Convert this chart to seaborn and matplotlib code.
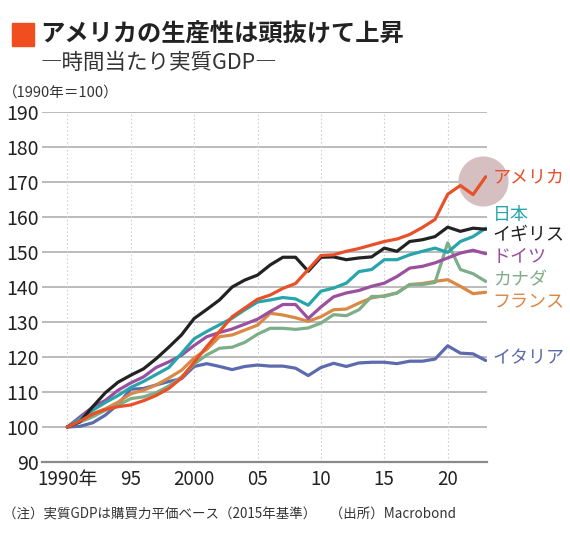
import numpy as np
import pandas as pd
import matplotlib
matplotlib.use("Agg")
import matplotlib.pyplot as plt
from matplotlib.patches import Rectangle
import seaborn as sns

years = list(range(1990, 2024))

usa = [100, 101.7, 103.7, 105, 105.8, 106.3, 107.5, 109, 111, 114,
       118.5, 123, 127.3, 131.5, 134, 136.5, 137.7, 139.6, 141, 145,
       149, 149.2, 150.2, 151, 152, 153, 153.7, 155, 157, 159.3,
       166.5, 169, 166.4, 171.5]
japan = [100, 102.4, 104.8, 107, 109, 111.3, 113, 115, 117, 121,
         125.2, 127.3, 129.2, 131.1, 133.5, 135.7, 136.3, 137, 136.6, 134.8,
         138.8, 139.7, 141.1, 144.4, 145, 147.8, 147.8, 149.2, 150.2, 151.1,
         149.9, 153, 154.4, 156.8]
uk = [100, 101.5, 105.8, 109.8, 112.8, 114.8, 116.6, 119.5, 122.8, 126.3,
      131, 133.6, 136.3, 140, 142, 143.4, 146.3, 148.5, 148.5, 144.5,
      148.5, 148.6, 147.8, 148.3, 148.6, 151.1, 150.2, 153, 153.5, 154.4,
      157.1, 155.9, 156.8, 156.5]
germany = [100, 102.9, 105.7, 107.6, 110.5, 112.6, 114.3, 117, 118.6, 120.5,
           123.3, 125.8, 127, 128, 129.4, 130.8, 133, 135, 135, 131,
           134.3, 137.2, 138.3, 139, 140.2, 141.1, 143, 145.4, 145.9, 146.9,
           148.3, 149.7, 150.5, 149.5]
canada = [100, 101.4, 102.9, 104.8, 106.2, 108.1, 108.6, 109.8, 111.7, 114.3,
          118, 120.6, 122.5, 122.8, 124.2, 126.5, 128.2, 128.2, 127.9, 128.3,
          129.7, 132.1, 131.8, 133.5, 137.3, 137.3, 138.3, 140.7, 140.7, 141.3,
          152.6, 145, 143.8, 141.6]
france = [100, 102.4, 103.8, 105.2, 107.1, 109.5, 110.5, 112, 114, 116.2,
          119.7, 122.2, 125.8, 126.3, 127.7, 129.1, 132.5, 132, 131.2, 130.2,
          131.5, 133.5, 133.7, 135.4, 136.9, 137.5, 138.3, 140.7, 141, 141.6,
          142.1, 140.2, 138.1, 138.5]
italy = [100, 100.2, 101.2, 103.4, 106.5, 110.8, 111, 112, 113, 113.8,
         117.3, 118.1, 117.3, 116.4, 117.3, 117.7, 117.4, 117.4, 116.8, 114.7,
         117, 118.2, 117.3, 118.3, 118.5, 118.5, 118.1, 118.8, 118.8, 119.4,
         123.2, 121.1, 120.9, 119]

countries = ["イタリア", "フランス", "カナダ", "ドイツ", "日本", "イギリス", "アメリカ"]
series = [italy, france, canada, germany, japan, uk, usa]
colors = ["#5b6bad", "#d98846", "#7dae88", "#9a4f9f", "#27a5ab", "#222222", "#e8502a"]
label_y = [119.6, 135.6, 141.8, 148.5, 160.5, 155.0, 171.3]

yticks = list(range(90, 200, 10))
xticks = [1990, 1995, 2000, 2005, 2010, 2015, 2020]
xlabels = ["1990年", "95", "2000", "05", "10", "15", "20"]

df = pd.DataFrame({
    "year": years * len(countries),
    "value": [v for s in series for v in s],
    "country": [c for c in countries for _ in years],
})

sns.set_style("white")
plt.rcParams["font.family"] = ["Noto Sans CJK JP", "DejaVu Sans"]

W, H = 570, 541
fig = plt.figure(figsize=(W / 100, H / 100), dpi=100)
ax = fig.add_axes([42 / W, 79 / H, 445 / W, 350 / H])

# highlight circle behind the US line end
ax.scatter([2022.8], [170.2], s=1300, color="#d6bfc1", zorder=1, clip_on=False, linewidths=0)

sns.lineplot(data=df, x="year", y="value", hue="country", hue_order=countries,
             palette=colors, linewidth=2.3, legend=False, ax=ax, zorder=3)

ax.set_xlim(1988, 2023.1)
ax.set_ylim(90, 190)
ax.set_yticks(yticks)
ax.set_xticks(xticks)
ax.set_xticklabels(xlabels)
ax.set_xlabel("")
ax.set_ylabel("")
for y in yticks[1:]:
    ax.axhline(y, color="#a8a8a8", lw=1.1, zorder=0)
for x in xticks:
    ax.axvline(x, color="#cfcfcf", lw=0.8, ls=(0, (1.5, 2)), zorder=0)
for s in ["top", "right", "left"]:
    ax.spines[s].set_visible(False)
ax.spines["bottom"].set_color("#8a8a8a")
ax.spines["bottom"].set_linewidth(1.6)
ax.tick_params(axis="y", length=0, pad=2, labelsize=14, labelcolor="#222222")
ax.tick_params(axis="x", length=0, pad=5, labelsize=13.5, labelcolor="#222222")

for name, yv, col in zip(countries, label_y, colors):
    ax.text(2023.55, yv, name, color=col, fontsize=13, va="center", ha="left", clip_on=False)

fig.patches.append(Rectangle((12 / W, 1 - 46 / H), 22 / W, 23 / H, transform=fig.transFigure,
                             color="#f04e1e", zorder=5))
fig.text(40 / W, 1 - 35 / H, "アメリカの生産性は頭抜けて上昇", fontsize=17.5, fontweight="bold",
         color="#222222", va="center", ha="left")
fig.text(40 / W, 1 - 63 / H, "―時間当たり実質GDP―", fontsize=15.5, color="#333333",
         va="center", ha="left")
fig.text(3 / W, 1 - 93 / H, "（1990年＝100）", fontsize=10.5, color="#333333", va="center", ha="left")
fig.text(3 / W, 1 - 515 / H, "（注）実質GDPは購買力平価ベース（2015年基準）　（出所）Macrobond",
         fontsize=9.7, color="#333333", va="center", ha="left")

fig.savefig("out.png", dpi=100, facecolor="white")
